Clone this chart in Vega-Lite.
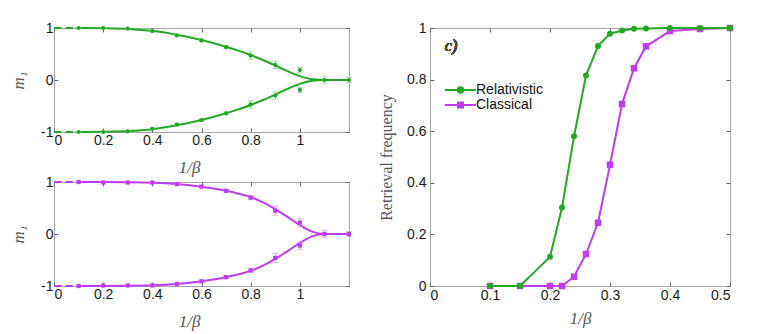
{
  "$schema": "https://vega.github.io/schema/vega-lite/v6.json",
  "background": "white",
  "padding": {"left": 8, "top": 20, "right": 5, "bottom": 5},
  "autosize": {"type": "pad"},
  "config": {
    "view": {"stroke": "#a6a6a6", "strokeWidth": 1},
    "axis": {
      "grid": false, "domain": false, "tickColor": "#666", "tickSize": -4, "tickWidth": 1,
      "labelFont": "Liberation Sans", "labelFontSize": 14, "labelColor": "#1a1a1a",
      "titleFont": "Liberation Serif", "titleFontStyle": "italic", "titleFontWeight": "normal",
      "titleFontSize": 17, "titleColor": "#555"
    }
  },
  "datasets": {
    "a_pts": [
      {"x": 0.1, "m": 1.0, "lo": 0.99, "hi": 1.01},
      {"x": 0.2, "m": 1.0, "lo": 0.99, "hi": 1.01},
      {"x": 0.3, "m": 0.99, "lo": 0.978, "hi": 1.002},
      {"x": 0.4, "m": 0.94, "lo": 0.925, "hi": 0.955},
      {"x": 0.5, "m": 0.86, "lo": 0.84, "hi": 0.88},
      {"x": 0.6, "m": 0.76, "lo": 0.735, "hi": 0.785},
      {"x": 0.7, "m": 0.63, "lo": 0.6, "hi": 0.66},
      {"x": 0.8, "m": 0.47, "lo": 0.4, "hi": 0.54},
      {"x": 0.9, "m": 0.29, "lo": 0.22, "hi": 0.36},
      {"x": 1.0, "m": 0.19, "lo": 0.14, "hi": 0.24},
      {"x": 1.1, "m": 0.0, "lo": -0.065, "hi": 0.065},
      {"x": 1.2, "m": 0.0, "lo": -0.045, "hi": 0.045},
      {"x": 0.1, "m": -1.0, "lo": -1.01, "hi": -0.99},
      {"x": 0.2, "m": -1.0, "lo": -1.01, "hi": -0.99},
      {"x": 0.3, "m": -0.99, "lo": -1.002, "hi": -0.978},
      {"x": 0.4, "m": -0.94, "lo": -0.955, "hi": -0.925},
      {"x": 0.5, "m": -0.86, "lo": -0.88, "hi": -0.84},
      {"x": 0.6, "m": -0.77, "lo": -0.795, "hi": -0.745},
      {"x": 0.7, "m": -0.64, "lo": -0.67, "hi": -0.61},
      {"x": 0.8, "m": -0.47, "lo": -0.54, "hi": -0.4},
      {"x": 0.9, "m": -0.3, "lo": -0.37, "hi": -0.23},
      {"x": 1.0, "m": -0.19, "lo": -0.24, "hi": -0.14}
    ],
    "b_pts": [
      {"x": 0.1, "m": 1.0, "lo": 0.985, "hi": 1.015},
      {"x": 0.2, "m": 0.99, "lo": 0.98, "hi": 1.0},
      {"x": 0.3, "m": 0.99, "lo": 0.98, "hi": 1.0},
      {"x": 0.4, "m": 0.99, "lo": 0.98, "hi": 1.0},
      {"x": 0.5, "m": 0.96, "lo": 0.945, "hi": 0.975},
      {"x": 0.6, "m": 0.91, "lo": 0.89, "hi": 0.93},
      {"x": 0.7, "m": 0.83, "lo": 0.805, "hi": 0.855},
      {"x": 0.8, "m": 0.7, "lo": 0.66, "hi": 0.74},
      {"x": 0.9, "m": 0.45, "lo": 0.36, "hi": 0.54},
      {"x": 1.0, "m": 0.22, "lo": 0.14, "hi": 0.3},
      {"x": 1.1, "m": 0.0, "lo": -0.07, "hi": 0.07},
      {"x": 1.2, "m": 0.0, "lo": -0.045, "hi": 0.045},
      {"x": 0.1, "m": -1.0, "lo": -1.015, "hi": -0.985},
      {"x": 0.2, "m": -0.99, "lo": -1.0, "hi": -0.98},
      {"x": 0.3, "m": -0.99, "lo": -1.0, "hi": -0.98},
      {"x": 0.4, "m": -0.99, "lo": -1.0, "hi": -0.98},
      {"x": 0.5, "m": -0.96, "lo": -0.975, "hi": -0.945},
      {"x": 0.6, "m": -0.91, "lo": -0.93, "hi": -0.89},
      {"x": 0.7, "m": -0.83, "lo": -0.855, "hi": -0.805},
      {"x": 0.8, "m": -0.7, "lo": -0.74, "hi": -0.66},
      {"x": 0.9, "m": -0.46, "lo": -0.55, "hi": -0.37},
      {"x": 1.0, "m": -0.22, "lo": -0.3, "hi": -0.14}
    ],
    "a_curve": [
      {"x": 0.1, "m": 1.0, "branch": "up"}, {"x": 0.2, "m": 0.995, "branch": "up"},
      {"x": 0.3, "m": 0.982, "branch": "up"}, {"x": 0.4, "m": 0.945, "branch": "up"},
      {"x": 0.5, "m": 0.87, "branch": "up"}, {"x": 0.6, "m": 0.77, "branch": "up"},
      {"x": 0.7, "m": 0.64, "branch": "up"}, {"x": 0.75, "m": 0.565, "branch": "up"},
      {"x": 0.8, "m": 0.48, "branch": "up"}, {"x": 0.85, "m": 0.385, "branch": "up"},
      {"x": 0.9, "m": 0.28, "branch": "up"}, {"x": 0.95, "m": 0.17, "branch": "up"},
      {"x": 1.0, "m": 0.075, "branch": "up"}, {"x": 1.05, "m": 0.015, "branch": "up"},
      {"x": 1.1, "m": 0.0, "branch": "up"}, {"x": 1.15, "m": 0.0, "branch": "up"},
      {"x": 1.2, "m": 0.0, "branch": "up"},
      {"x": 0.1, "m": -1.0, "branch": "down"}, {"x": 0.2, "m": -0.995, "branch": "down"},
      {"x": 0.3, "m": -0.982, "branch": "down"}, {"x": 0.4, "m": -0.945, "branch": "down"},
      {"x": 0.5, "m": -0.87, "branch": "down"}, {"x": 0.6, "m": -0.77, "branch": "down"},
      {"x": 0.7, "m": -0.64, "branch": "down"}, {"x": 0.75, "m": -0.565, "branch": "down"},
      {"x": 0.8, "m": -0.48, "branch": "down"}, {"x": 0.85, "m": -0.385, "branch": "down"},
      {"x": 0.9, "m": -0.28, "branch": "down"}, {"x": 0.95, "m": -0.17, "branch": "down"},
      {"x": 1.0, "m": -0.075, "branch": "down"}, {"x": 1.05, "m": -0.015, "branch": "down"},
      {"x": 1.1, "m": 0.0, "branch": "down"}, {"x": 1.15, "m": 0.0, "branch": "down"},
      {"x": 1.2, "m": 0.0, "branch": "down"}
    ],
    "b_curve": [
      {"x": 0.1, "m": 1.0, "branch": "up"}, {"x": 0.2, "m": 0.999, "branch": "up"},
      {"x": 0.3, "m": 0.995, "branch": "up"}, {"x": 0.4, "m": 0.985, "branch": "up"},
      {"x": 0.5, "m": 0.96, "branch": "up"}, {"x": 0.6, "m": 0.91, "branch": "up"},
      {"x": 0.7, "m": 0.83, "branch": "up"}, {"x": 0.75, "m": 0.775, "branch": "up"},
      {"x": 0.8, "m": 0.71, "branch": "up"}, {"x": 0.85, "m": 0.61, "branch": "up"},
      {"x": 0.9, "m": 0.48, "branch": "up"}, {"x": 0.95, "m": 0.33, "branch": "up"},
      {"x": 1.0, "m": 0.17, "branch": "up"}, {"x": 1.05, "m": 0.045, "branch": "up"},
      {"x": 1.1, "m": 0.0, "branch": "up"}, {"x": 1.15, "m": 0.0, "branch": "up"},
      {"x": 1.2, "m": 0.0, "branch": "up"},
      {"x": 0.1, "m": -1.0, "branch": "down"}, {"x": 0.2, "m": -0.999, "branch": "down"},
      {"x": 0.3, "m": -0.995, "branch": "down"}, {"x": 0.4, "m": -0.985, "branch": "down"},
      {"x": 0.5, "m": -0.96, "branch": "down"}, {"x": 0.6, "m": -0.91, "branch": "down"},
      {"x": 0.7, "m": -0.83, "branch": "down"}, {"x": 0.75, "m": -0.775, "branch": "down"},
      {"x": 0.8, "m": -0.71, "branch": "down"}, {"x": 0.85, "m": -0.61, "branch": "down"},
      {"x": 0.9, "m": -0.48, "branch": "down"}, {"x": 0.95, "m": -0.33, "branch": "down"},
      {"x": 1.0, "m": -0.17, "branch": "down"}, {"x": 1.05, "m": -0.045, "branch": "down"},
      {"x": 1.1, "m": 0.0, "branch": "down"}, {"x": 1.15, "m": 0.0, "branch": "down"},
      {"x": 1.2, "m": 0.0, "branch": "down"}
    ],
    "lead": [
      {"x": 0.0, "m": 1.0, "branch": "up"}, {"x": 0.1, "m": 1.0, "branch": "up"},
      {"x": 0.0, "m": -1.0, "branch": "down"}, {"x": 0.1, "m": -1.0, "branch": "down"}
    ],
    "c": [
      {"x": 0.1, "f": 0.0, "series": "Relativistic"},
      {"x": 0.15, "f": 0.0, "series": "Relativistic"},
      {"x": 0.2, "f": 0.113, "series": "Relativistic"},
      {"x": 0.22, "f": 0.304, "series": "Relativistic"},
      {"x": 0.24, "f": 0.58, "series": "Relativistic"},
      {"x": 0.26, "f": 0.816, "series": "Relativistic"},
      {"x": 0.28, "f": 0.93, "series": "Relativistic"},
      {"x": 0.3, "f": 0.978, "series": "Relativistic"},
      {"x": 0.32, "f": 0.99, "series": "Relativistic"},
      {"x": 0.34, "f": 0.997, "series": "Relativistic"},
      {"x": 0.36, "f": 0.998, "series": "Relativistic"},
      {"x": 0.4, "f": 1.0, "series": "Relativistic"},
      {"x": 0.45, "f": 1.0, "series": "Relativistic"},
      {"x": 0.5, "f": 1.0, "series": "Relativistic"},
      {"x": 0.1, "f": 0.0, "series": "Classical"},
      {"x": 0.15, "f": 0.0, "series": "Classical"},
      {"x": 0.2, "f": 0.0, "series": "Classical"},
      {"x": 0.22, "f": 0.0, "series": "Classical"},
      {"x": 0.24, "f": 0.036, "series": "Classical"},
      {"x": 0.26, "f": 0.124, "series": "Classical"},
      {"x": 0.28, "f": 0.245, "series": "Classical"},
      {"x": 0.3, "f": 0.47, "series": "Classical"},
      {"x": 0.32, "f": 0.705, "series": "Classical"},
      {"x": 0.34, "f": 0.844, "series": "Classical"},
      {"x": 0.36, "f": 0.929, "series": "Classical"},
      {"x": 0.4, "f": 0.988, "series": "Classical"},
      {"x": 0.45, "f": 0.996, "series": "Classical"},
      {"x": 0.5, "f": 1.0, "series": "Classical"}
    ]
  },
  "spacing": 23,
  "resolve": {
    "scale": {"shape": "independent", "fill": "independent", "stroke": "independent"},
    "legend": {"shape": "independent", "fill": "independent", "stroke": "independent"}
  },
  "hconcat": [
    {
      "spacing": 50,
      "bounds": "flush",
      "vconcat": [
        {
          "width": 295,
          "height": 104,
          "resolve": {"axis": {"x": "independent", "y": "independent"}},
          "layer": [
            {
              "data": {"name": "a_curve"},
              "mark": {"type": "line", "color": "#22a822", "strokeWidth": 2, "interpolate": "monotone"},
              "encoding": {
                "x": {"field": "x", "type": "quantitative", "scale": {"domain": [0, 1.2], "nice": false},
                  "axis": {"values": [0, 0.2, 0.4, 0.6, 0.8, 1], "labelExpr": "'' + datum.value", "labelPadding": 5,
                    "title": "1/β", "titleX": 135, "titleY": 40, "titleAlign": "center", "titleBaseline": "alphabetic"}},
                "y": {"field": "m", "type": "quantitative", "scale": {"domain": [-1, 1], "nice": false},
                  "axis": {"values": [-1, 0, 1], "labelExpr": "'' + datum.value", "labelPadding": 5,
                    "title": "m₁", "titleX": -36, "titleY": 52, "titleAngle": -90, "titleAlign": "center", "titleBaseline": "middle"}},
                "detail": {"field": "branch"}
              }
            },
            {
              "data": {"name": "lead"},
              "mark": {"type": "line", "color": "#22a822", "strokeWidth": 2, "strokeDash": [7.5, 4]},
              "encoding": {
                "x": {"field": "x", "type": "quantitative", "axis": null},
                "y": {"field": "m", "type": "quantitative", "axis": null},
                "detail": {"field": "branch"}
              }
            },
            {
              "data": {"name": "a_pts"},
              "mark": {"type": "rule", "color": "#86d486", "strokeWidth": 1},
              "encoding": {
                "x": {"field": "x", "type": "quantitative", "axis": null},
                "y": {"field": "lo", "type": "quantitative", "axis": null},
                "y2": {"field": "hi"}
              }
            },
            {
              "data": {"name": "a_pts"},
              "mark": {"type": "tick", "orient": "horizontal", "color": "#86d486", "size": 6, "thickness": 1},
              "encoding": {
                "x": {"field": "x", "type": "quantitative", "axis": null},
                "y": {"field": "lo", "type": "quantitative", "axis": null}
              }
            },
            {
              "data": {"name": "a_pts"},
              "mark": {"type": "tick", "orient": "horizontal", "color": "#86d486", "size": 6, "thickness": 1},
              "encoding": {
                "x": {"field": "x", "type": "quantitative", "axis": null},
                "y": {"field": "hi", "type": "quantitative", "axis": null}
              }
            },
            {
              "data": {"name": "a_pts"},
              "mark": {"type": "circle", "color": "#22a822", "size": 18, "opacity": 1},
              "encoding": {
                "x": {"field": "x", "type": "quantitative",
                  "axis": {"orient": "top", "values": [0, 0.2, 0.4, 0.6, 0.8, 1], "labels": false, "title": null}},
                "y": {"field": "m", "type": "quantitative",
                  "axis": {"orient": "right", "values": [-1, 0, 1], "labels": false, "title": null}}
              }
            },
            {
              "mark": {"type": "text", "text": "a)", "font": "Liberation Serif", "fontStyle": "italic", "fontWeight": "normal", "fontSize": 16, "color": "#444"},
              "encoding": {
                "x": {"datum": 1.09, "type": "quantitative", "axis": null},
                "y": {"datum": 0.67, "type": "quantitative", "axis": null}
              }
            }
          ]
        },
        {
          "width": 295,
          "height": 104,
          "resolve": {"axis": {"x": "independent", "y": "independent"}},
          "layer": [
            {
              "data": {"name": "b_curve"},
              "mark": {"type": "line", "color": "#c03cf2", "strokeWidth": 2, "interpolate": "monotone"},
              "encoding": {
                "x": {"field": "x", "type": "quantitative", "scale": {"domain": [0, 1.2], "nice": false},
                  "axis": {"values": [0, 0.2, 0.4, 0.6, 0.8, 1], "labelExpr": "'' + datum.value", "labelPadding": 5,
                    "title": "1/β", "titleX": 135, "titleY": 40, "titleAlign": "center", "titleBaseline": "alphabetic"}},
                "y": {"field": "m", "type": "quantitative", "scale": {"domain": [-1, 1], "nice": false},
                  "axis": {"values": [-1, 0, 1], "labelExpr": "'' + datum.value", "labelPadding": 5,
                    "title": "m₁", "titleX": -36, "titleY": 52, "titleAngle": -90, "titleAlign": "center", "titleBaseline": "middle"}},
                "detail": {"field": "branch"}
              }
            },
            {
              "data": {"name": "lead"},
              "mark": {"type": "line", "color": "#c03cf2", "strokeWidth": 2, "strokeDash": [7.5, 4]},
              "encoding": {
                "x": {"field": "x", "type": "quantitative", "axis": null},
                "y": {"field": "m", "type": "quantitative", "axis": null},
                "detail": {"field": "branch"}
              }
            },
            {
              "data": {"name": "b_pts"},
              "mark": {"type": "rule", "color": "#db98f6", "strokeWidth": 1},
              "encoding": {
                "x": {"field": "x", "type": "quantitative", "axis": null},
                "y": {"field": "lo", "type": "quantitative", "axis": null},
                "y2": {"field": "hi"}
              }
            },
            {
              "data": {"name": "b_pts"},
              "mark": {"type": "tick", "orient": "horizontal", "color": "#db98f6", "size": 6, "thickness": 1},
              "encoding": {
                "x": {"field": "x", "type": "quantitative", "axis": null},
                "y": {"field": "lo", "type": "quantitative", "axis": null}
              }
            },
            {
              "data": {"name": "b_pts"},
              "mark": {"type": "tick", "orient": "horizontal", "color": "#db98f6", "size": 6, "thickness": 1},
              "encoding": {
                "x": {"field": "x", "type": "quantitative", "axis": null},
                "y": {"field": "hi", "type": "quantitative", "axis": null}
              }
            },
            {
              "data": {"name": "b_pts"},
              "mark": {"type": "square", "color": "#c03cf2", "size": 18, "opacity": 1},
              "encoding": {
                "x": {"field": "x", "type": "quantitative",
                  "axis": {"orient": "top", "values": [0, 0.2, 0.4, 0.6, 0.8, 1], "labels": false, "title": null}},
                "y": {"field": "m", "type": "quantitative",
                  "axis": {"orient": "right", "values": [-1, 0, 1], "labels": false, "title": null}}
              }
            },
            {
              "mark": {"type": "text", "text": "b)", "font": "Liberation Serif", "fontStyle": "italic", "fontWeight": "normal", "fontSize": 16, "color": "#444"},
              "encoding": {
                "x": {"datum": 1.094, "type": "quantitative", "axis": null},
                "y": {"datum": 0.67, "type": "quantitative", "axis": null}
              }
            }
          ]
        }
      ]
    },
    {
      "width": 300,
      "height": 258,
      "data": {"name": "c"},
      "resolve": {"axis": {"x": "independent", "y": "independent"}},
      "layer": [
        {
          "transform": [{"filter": "datum.series === 'Classical'"}],
          "mark": {"type": "line", "color": "#c03cf2", "strokeWidth": 2},
          "encoding": {
            "x": {"field": "x", "type": "quantitative", "scale": {"domain": [0, 0.5], "nice": false},
              "axis": {"values": [0, 0.1, 0.2, 0.3, 0.4, 0.5], "labelExpr": "'' + datum.value", "labelPadding": 6,
                "title": "1/β", "titleX": 150, "titleY": 37, "titleAlign": "center", "titleBaseline": "alphabetic"}},
            "y": {"field": "f", "type": "quantitative", "scale": {"domain": [0, 1], "nice": false},
              "axis": {"values": [0, 0.2, 0.4, 0.6, 0.8, 1], "labelExpr": "'' + datum.value", "labelPadding": 8,
                "title": "Retrieval frequency", "titleFontStyle": "normal", "titleFontSize": 16,
                "titleX": -44, "titleY": 129, "titleAngle": -90, "titleAlign": "center", "titleBaseline": "middle"}}
          }
        },
        {
          "transform": [{"filter": "datum.series === 'Classical'"}],
          "mark": {"type": "square", "color": "#c03cf2", "size": 42, "opacity": 1},
          "encoding": {
            "x": {"field": "x", "type": "quantitative", "axis": null},
            "y": {"field": "f", "type": "quantitative", "axis": null}
          }
        },
        {
          "transform": [{"filter": "datum.series === 'Relativistic'"}],
          "mark": {"type": "line", "color": "#22a822", "strokeWidth": 2},
          "encoding": {
            "x": {"field": "x", "type": "quantitative", "axis": null},
            "y": {"field": "f", "type": "quantitative", "axis": null}
          }
        },
        {
          "transform": [{"filter": "datum.series === 'Relativistic'"}],
          "mark": {"type": "circle", "color": "#22a822", "size": 36, "opacity": 1},
          "encoding": {
            "x": {"field": "x", "type": "quantitative",
              "axis": {"orient": "top", "values": [0, 0.1, 0.2, 0.3, 0.4, 0.5], "labels": false, "title": null}},
            "y": {"field": "f", "type": "quantitative",
              "axis": {"orient": "right", "values": [0, 0.2, 0.4, 0.6, 0.8, 1], "labels": false, "title": null}}
          }
        },
        {
          "mark": {"type": "point", "filled": true, "opacity": 0},
          "encoding": {
            "x": {"field": "x", "type": "quantitative", "axis": null},
            "y": {"field": "f", "type": "quantitative", "axis": null},
            "shape": {"field": "series", "type": "nominal",
              "scale": {"domain": ["Relativistic", "Classical"],
                "range": ["M-3.1,0H3.1M-0.55,0A0.55,0.55,0,1,0,0.55,0A0.55,0.55,0,1,0,-0.55,0Z", "M-3.1,0H3.1M-0.5,-0.5H0.5V0.5H-0.5Z"]},
              "legend": {"orient": "none", "legendX": 23.5, "legendY": 55, "title": null, "padding": 0,
                "symbolSize": 100, "symbolStrokeWidth": 2, "symbolOpacity": 1,
                "labelFont": "Liberation Sans", "labelFontSize": 14, "labelColor": "#111", "labelOffset": 8.5, "rowPadding": 1}},
            "fill": {"field": "series", "type": "nominal",
              "scale": {"domain": ["Relativistic", "Classical"], "range": ["#22a822", "#c03cf2"]},
              "legend": {"orient": "none", "legendX": 23.5, "legendY": 55, "title": null, "padding": 0,
                "symbolSize": 100, "symbolStrokeWidth": 2, "symbolOpacity": 1,
                "labelFont": "Liberation Sans", "labelFontSize": 14, "labelColor": "#111", "labelOffset": 8.5, "rowPadding": 1}},
            "stroke": {"field": "series", "type": "nominal",
              "scale": {"domain": ["Relativistic", "Classical"], "range": ["#22a822", "#c03cf2"]},
              "legend": {"orient": "none", "legendX": 23.5, "legendY": 55, "title": null, "padding": 0,
                "symbolSize": 100, "symbolStrokeWidth": 2, "symbolOpacity": 1,
                "labelFont": "Liberation Sans", "labelFontSize": 14, "labelColor": "#111", "labelOffset": 8.5, "rowPadding": 1}}
          }
        },
        {
          "mark": {"type": "text", "text": "c)", "font": "Liberation Serif", "fontStyle": "italic", "fontWeight": "normal", "fontSize": 16, "color": "#444"},
          "encoding": {
            "x": {"datum": 0.035, "type": "quantitative", "axis": null},
            "y": {"datum": 0.93, "type": "quantitative", "axis": null}
          }
        }
      ]
    }
  ]
}
